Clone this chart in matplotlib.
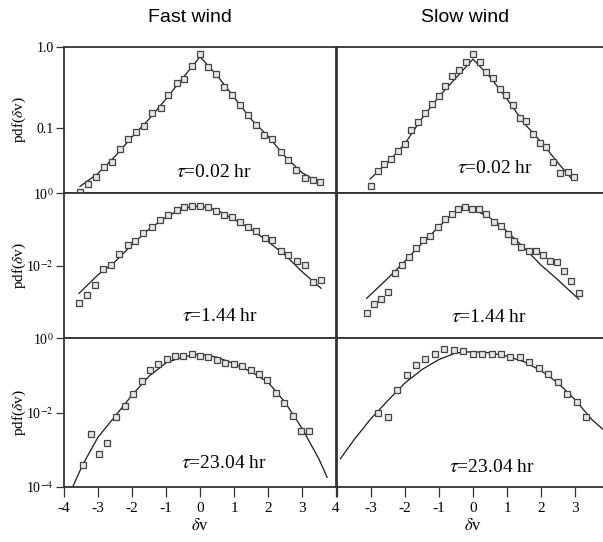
import numpy as np
import matplotlib.pyplot as plt
from matplotlib.ticker import NullLocator

plt.rcParams['font.family'] = 'serif'
plt.rcParams['font.serif'] = ['Liberation Serif', 'DejaVu Serif']
plt.rcParams['mathtext.fontset'] = 'stix'

# velocity increment bins and log10(pdf) of the measured distributions
fast_a_x = [-3.53, -3.29, -3.06, -2.83, -2.60, -2.35, -2.11, -1.88, -1.65, -1.40, -1.16,
            -0.93, -0.69, -0.46, -0.23, 0.00, 0.24, 0.47, 0.70, 0.94, 1.17, 1.40, 1.65,
            1.88, 2.12, 2.37, 2.60, 2.83, 3.08, 3.31, 3.54]
fast_a_lp = [-1.79, -1.69, -1.61, -1.48, -1.42, -1.26, -1.13, -1.05, -0.97, -0.81, -0.75,
             -0.59, -0.44, -0.39, -0.24, -0.09, -0.25, -0.33, -0.49, -0.59, -0.71, -0.84,
             -0.96, -1.08, -1.14, -1.30, -1.40, -1.52, -1.62, -1.64, -1.67]
fast_a_fit_x = [-3.53, -3, -2.5, -2, -1.5, -1, -0.5, 0, 0.5, 1, 1.5, 2, 2.5, 3, 3.54]
fast_a_fit_lp = [-1.72, -1.56, -1.35, -1.11, -0.89, -0.64, -0.38, -0.12, -0.35, -0.62,
                 -0.89, -1.10, -1.35, -1.55, -1.68]

slow_a_x = [-3.00, -2.80, -2.61, -2.41, -2.20, -2.01, -1.81, -1.61, -1.41, -1.21, -1.01,
            -0.81, -0.62, -0.42, -0.22, 0.00, 0.20, 0.38, 0.59, 0.79, 0.97, 1.17, 1.37,
            1.57, 1.77, 1.96, 2.16, 2.36, 2.56, 2.78, 2.96]
slow_a_lp = [-1.72, -1.53, -1.44, -1.38, -1.28, -1.20, -1.02, -0.92, -0.82, -0.70, -0.60,
             -0.48, -0.36, -0.28, -0.19, -0.09, -0.18, -0.31, -0.38, -0.52, -0.59, -0.72,
             -0.88, -0.91, -1.07, -1.18, -1.23, -1.42, -1.55, -1.54, -1.61]
slow_a_fit_x = [-3.03, -2.5, -2, -1.5, -1, -0.5, 0, 0.5, 1, 1.5, 2, 2.5, 2.93]
slow_a_fit_lp = [-1.63, -1.42, -1.19, -0.88, -0.61, -0.38, -0.15, -0.37, -0.64, -0.94,
                 -1.17, -1.43, -1.64]

fast_b_x = [-3.56, -3.31, -3.08, -2.84, -2.61, -2.37, -2.13, -1.90, -1.67, -1.41, -1.17,
            -0.94, -0.69, -0.46, -0.23, 0.00, 0.24, 0.47, 0.70, 0.94, 1.19, 1.42, 1.66,
            1.90, 2.13, 2.38, 2.60, 2.84, 3.08, 3.33, 3.56]
fast_b_lp = [-3.03, -2.81, -2.52, -2.08, -1.99, -1.68, -1.43, -1.31, -1.10, -0.92, -0.75,
             -0.59, -0.47, -0.38, -0.35, -0.35, -0.39, -0.48, -0.59, -0.64, -0.79, -0.94,
             -1.03, -1.24, -1.30, -1.58, -1.71, -1.86, -1.99, -2.46, -2.39]
fast_b_fit_x = [-3.56, -3, -2.5, -2, -1.5, -1, -0.5, 0, 0.5, 1, 1.5, 2, 2.5, 3, 3.56]
fast_b_fit_lp = [-2.76, -2.25, -1.89, -1.42, -0.99, -0.66, -0.41, -0.35, -0.46, -0.72,
                 -0.99, -1.33, -1.70, -2.16, -2.62]

slow_b_x = [-3.13, -2.92, -2.71, -2.50, -2.29, -2.09, -1.88, -1.67, -1.46, -1.26, -1.04,
            -0.82, -0.63, -0.44, -0.23, -0.02, 0.18, 0.38, 0.62, 0.82, 1.02, 1.22, 1.42,
            1.64, 1.85, 2.05, 2.26, 2.47, 2.69, 2.89, 3.11]
slow_b_lp = [-3.29, -3.06, -2.92, -2.72, -2.21, -1.97, -1.77, -1.51, -1.29, -1.17, -0.93,
             -0.72, -0.56, -0.43, -0.37, -0.42, -0.43, -0.57, -0.78, -0.90, -1.12, -1.31,
             -1.47, -1.58, -1.60, -1.70, -1.88, -1.89, -2.14, -2.42, -2.76]
slow_b_fit_x = [-3.13, -2.5, -2, -1.5, -1, -0.5, -0.1, 0.5, 1, 1.5, 2, 2.5, 3.11]
slow_b_fit_lp = [-2.90, -2.34, -1.87, -1.38, -0.92, -0.48, -0.38, -0.68, -1.05, -1.50,
                 -1.98, -2.39, -2.92]

fast_c_x = [-3.45, -3.22, -2.98, -2.73, -2.47, -2.22, -1.97, -1.72, -1.47, -1.23, -0.98,
            -0.74, -0.50, -0.25, 0.00, 0.24, 0.50, 0.74, 1.00, 1.24, 1.49, 1.73, 1.98,
            2.23, 2.46, 2.73, 2.98, 3.22]
fast_c_lp = [-3.42, -2.57, -3.11, -2.81, -2.13, -1.82, -1.50, -1.14, -0.86, -0.68, -0.56,
             -0.48, -0.47, -0.42, -0.47, -0.50, -0.59, -0.66, -0.69, -0.75, -0.84, -0.97,
             -1.13, -1.47, -1.74, -2.08, -2.50, -2.50]
fast_c_fit_x = [-3.75, -3.45, -3, -2.5, -2, -1.5, -1, -0.5, 0, 0.5, 1, 1.5, 2, 2.5, 3,
                3.5, 3.74]
fast_c_fit_lp = [-4.01, -3.40, -2.66, -2.10, -1.53, -1.02, -0.66, -0.50, -0.42, -0.51,
                 -0.68, -0.90, -1.18, -1.72, -2.42, -3.25, -3.74]

slow_c_x = [-2.78, -2.51, -2.23, -1.95, -1.68, -1.40, -1.12, -0.84, -0.57, -0.29, -0.01,
            0.27, 0.55, 0.82, 1.10, 1.37, 1.64, 1.93, 2.21, 2.49, 2.77, 3.05, 3.32]
slow_c_lp = [-2.01, -2.12, -1.38, -0.99, -0.73, -0.55, -0.41, -0.30, -0.32, -0.34, -0.41,
             -0.41, -0.41, -0.42, -0.50, -0.51, -0.64, -0.80, -0.96, -1.18, -1.50, -1.72,
             -2.11]
slow_c_fit_x = [-3.90, -3.5, -3, -2.5, -2, -1.5, -1, -0.5, 0, 0.5, 1, 1.5, 2, 2.5, 3,
                3.5, 3.95]
slow_c_fit_lp = [-3.24, -2.73, -2.16, -1.67, -1.20, -0.84, -0.57, -0.39, -0.36, -0.39,
                 -0.48, -0.63, -0.87, -1.20, -1.65, -2.19, -2.55]

tau_labels = ['0.02', '1.44', '23.04']
col_titles = ['Fast wind', 'Slow wind']

panels = [
    [(fast_a_x, fast_a_lp, fast_a_fit_x, fast_a_fit_lp),
     (slow_a_x, slow_a_lp, slow_a_fit_x, slow_a_fit_lp)],
    [(fast_b_x, fast_b_lp, fast_b_fit_x, fast_b_fit_lp),
     (slow_b_x, slow_b_lp, slow_b_fit_x, slow_b_fit_lp)],
    [(fast_c_x, fast_c_lp, fast_c_fit_x, fast_c_fit_lp),
     (slow_c_x, slow_c_lp, slow_c_fit_x, slow_c_fit_lp)],
]

W, H = 603, 542
fig = plt.figure(figsize=(W / 100, H / 100), dpi=100)

col_left = [64, 337]
col_w = 272
row_top = [47, 193.3, 338.3]
row_bot = [193.3, 338.3, 487]
ylims = [(10 ** -1.805, 1.0), (1e-4, 1.0), (1e-4, 1.0)]
tau_pos = [[(0.553, 0.145), (0.58, 0.17)],
           [(0.575, 0.15), (0.56, 0.14)],
           [(0.586, 0.16), (0.568, 0.13)]]

edge = '#333333'

for r in range(3):
    for c in range(2):
        x0 = col_left[c] / W
        y0 = 1 - row_bot[r] / H
        h = (row_bot[r] - row_top[r]) / H
        ax = fig.add_axes([x0, y0, col_w / W, h])
        px, plp, fx, flp = panels[r][c]

        ax.plot(fx, 10 ** np.array(flp), color='#1a1a1a', lw=0.9, zorder=2)
        ax.plot(px, 10 ** np.array(plp), ls='none', marker='s', ms=4.3,
                mfc='#e6e6e6', mec='#444444', mew=0.9, zorder=3)

        ax.set_yscale('log')
        ax.set_xlim(-4, 4)
        ax.set_ylim(*ylims[r])
        ax.yaxis.set_minor_locator(NullLocator())
        ax.xaxis.set_minor_locator(NullLocator())
        for s in ax.spines.values():
            s.set_color(edge)
            s.set_linewidth(1.3)

        ax.text(*tau_pos[r][c], r'$\tau$=' + tau_labels[r] + ' hr',
                transform=ax.transAxes, ha='center', va='center', fontsize=14)

        if c == 0:
            if r == 0:
                ax.set_yticks([1.0, 0.1])
                ax.set_yticklabels(['1.0', '0.1'])
            elif r == 1:
                ax.set_yticks([1.0, 1e-2])
                ax.set_yticklabels([r'10$^{0}$', r'10$^{-2}$'])
            else:
                ax.set_yticks([1.0, 1e-2, 1e-4])
                ax.set_yticklabels([r'10$^{0}$', r'10$^{-2}$', r'10$^{-4}$'])
            ax.tick_params(axis='y', direction='out', length=6, width=0.9,
                           color=edge, labelsize=10, pad=1.5)
        else:
            ax.yaxis.set_major_locator(NullLocator())

        if r == 2:
            ticks = list(range(-4, 5))
            ax.set_xticks(ticks)
            if c == 0:
                ax.set_xticklabels([str(t) for t in ticks])
            else:
                ax.set_xticklabels([''] + [str(t) for t in ticks[1:]])
            ax.tick_params(axis='x', direction='out', length=7, width=0.9,
                           color=edge, labelsize=11, pad=4)
            ax.set_xlabel(r'$\delta$v', fontsize=12, labelpad=2)
        else:
            ax.xaxis.set_major_locator(NullLocator())

    # y label for each row
    yc = 1 - (row_top[r] + row_bot[r]) / 2 / H
    fig.text(19 / W, yc, r'pdf($\delta$v)', rotation=90, ha='center', va='center',
             fontsize=11)

fig.text(190 / W, 1 - 18 / H, col_titles[0], ha='center', va='center',
         fontsize=14, family='Liberation Sans')
fig.text(465 / W, 1 - 18 / H, col_titles[1], ha='center', va='center',
         fontsize=14, family='Liberation Sans')

fig.savefig('out.png', dpi=100)
